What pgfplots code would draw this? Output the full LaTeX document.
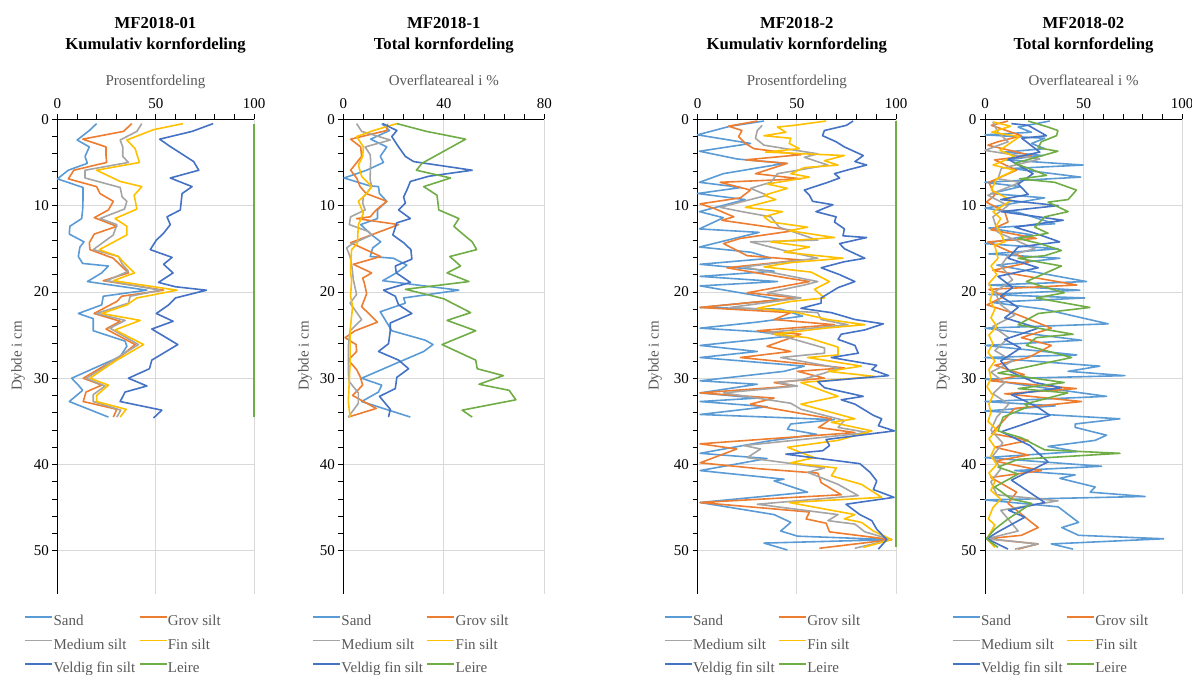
\documentclass[border=0pt]{standalone}
\usepackage{fontspec}
\setmainfont{Liberation Serif}
\usepackage{pgfplots}
\pgfplotsset{compat=1.18}
\definecolor{csand}{HTML}{5B9BD5}
\definecolor{cgrov}{HTML}{ED7D31}
\definecolor{cmed}{HTML}{A5A5A5}
\definecolor{cfin}{HTML}{FFC000}
\definecolor{cvfs}{HTML}{4472C4}
\definecolor{cleire}{HTML}{70AD47}
\definecolor{lgray}{HTML}{595959}
\definecolor{gridc}{HTML}{D9D9D9}
\pgfplotsset{
  panel/.style={
    scale only axis, height=474.7pt,
    y dir=reverse, ymin=0, ymax=55, xmin=0,
    axis x line*=top, axis y line*=left,
    axis line style={black, line width=0.75pt, -},
    ytick={0,10,...,50}, minor y tick num=4,
    tick align=outside, major tick length=5pt, minor tick length=5pt,
    tick style={black, line width=0.75pt},
    grid=major, major grid style={gridc, line width=0.75pt},
    /pgf/number format/assume math mode=true,
    tick label style={font=\fontsize{15}{15}\selectfont, text=black},
    xticklabel style={yshift=2.5pt},
    clip=false,
    every axis plot/.append style={line width=1.6pt, line join=round},
    legend columns=2,
    legend cell align=left,
    legend image code/.code={\draw[##1, line width=1.6pt] (0pt,5pt) -- (27pt,5pt);},
    legend style={font=\fontsize{15}{15}\selectfont, text=lgray, draw=none, fill=none,
      inner sep=0pt, outer sep=0pt, row sep=9pt,
      nodes={inner sep=0.5pt, text height=10.5pt, text depth=3pt},
      /tikz/every even column/.append style={column sep=3pt}},
  },
}
\tikzset{
  tnode/.style={font=\bfseries\fontsize{16.7}{16.7}\selectfont, anchor=base},
  lnode/.style={font=\fontsize{15}{15}\selectfont, text=lgray, anchor=base},
}
\begin{document}
\begin{tikzpicture}[x=1pt,y=1pt]
\useasboundingbox (0,0) rectangle (1192,675);
% ---------------- Panel 1 ----------------
\node[tnode] at (155.5,646) {MF2018-01};
\node[tnode] at (155.5,625) {Kumulativ kornfordeling};
\node[lnode] at (155.5,589) {Prosentfordeling};
\node[lnode, rotate=90, anchor=center] at (18,319) {Dybde i cm};
\begin{axis}[panel, at={(57.5pt,555.7pt)}, anchor=north west, width=196.5pt,
  xmax=100, xtick={0,50,100}, minor x tick num=4,
  legend style={at={(-0.168,-0.044)}, anchor=north west}]
\addplot[csand] coordinates {(19.9,0.5)(16.2,1.3)(10,2.4)(16.2,3.2)(14,4.3)(15.2,5.1)(5.5,5.9)(0,6.9)(13,7.9)(13,9.2)(12.8,10.5)(12.3,11.5)(6.3,12.4)(6,13.3)(13.5,14.2)(11.4,14.8)(10.6,15.9)(12.8,16.7)(25.9,17)(22.5,17.8)(15.2,18.8)(45.5,19.8)(23.3,20.5)(22.5,21.5)(10.6,22.5)(18.2,23.1)(18.2,24.5)(34.4,25.7)(35.3,26.3)(31.9,27.5)(20,28.7)(7.2,30)(10.6,30.8)(12.8,31.4)(6,32.7)(25.9,34.5)};
\addplot[cgrov] coordinates {(37.8,0.5)(33.6,1.4)(12.8,2.3)(24.7,3.2)(24.7,4.2)(25,5)(8.3,5.9)(5.5,6.9)(19.9,7.8)(21.6,8.6)(28.4,9.5)(25.9,10.5)(18.7,11.4)(30.2,12.4)(18.7,13.3)(16.2,14.3)(16.5,15.1)(28.4,16.1)(32,16.9)(36.1,17.8)(23.3,18.7)(54,19.8)(32.7,20.5)(30.2,21.1)(18.6,22.5)(31.9,23.4)(24.7,24.3)(39.5,26.1)(31.9,27.5)(22,28.8)(13.1,30)(22.5,30.8)(14.5,31.6)(13.1,32.7)(30.2,33.6)(28.4,34.5)};
\addplot[cmed] coordinates {(42.9,0.5)(40.4,1.4)(31.9,2.4)(33.2,3.2)(33.2,4.3)(36.1,5)(14,5.9)(14,6.8)(31.9,7.9)(32.9,9)(35.3,9.5)(34.1,10.4)(21.6,11.5)(30.2,12.2)(28.4,13.4)(18.2,15.1)(31,15.9)(33,16.8)(36.1,17.6)(25,18.7)(52.3,19.8)(37,20.5)(36.1,21.3)(19.9,22.5)(34.4,23.3)(26.7,24.2)(41.2,26.1)(28.4,27.9)(22,29)(14.5,30)(24.2,30.9)(18.2,31.9)(18.2,32.7)(32.2,33.7)(30.2,34.5)};
\addplot[cfin] coordinates {(63.9,0.5)(48.9,1.2)(35.3,2.4)(39.5,3.4)(41.7,5)(19.9,5.9)(31.9,7.2)(42.9,7.8)(39,8.8)(40.4,10.4)(29.3,11.5)(35.3,12.4)(35.3,13.4)(21.3,15.1)(31,15.9)(35,16.9)(39.2,17.8)(28.4,18.7)(60.8,19.8)(40.4,20.7)(35.3,21.5)(22.5,22.5)(42.1,23.3)(29.3,24.4)(43.8,26.1)(30.2,27.9)(23,29)(16.5,30)(25.9,30.8)(19.9,32)(19.9,32.7)(34.9,33.6)(31.9,34.5)};
\addplot[cvfs] coordinates {(79.2,0.5)(68.5,1.4)(52,2.3)(57,3.1)(62.5,3.9)(69.3,4.9)(71.9,5.9)(57.4,6.8)(68.5,7.8)(63.4,8.6)(62.5,10.5)(55.7,11.3)(57.4,12.2)(54,13.2)(50.3,14)(47.2,15.1)(58.3,16)(54,16.8)(58.8,17.8)(51.4,18.9)(60,19.4)(75.8,19.8)(60,20.7)(56.6,21.5)(50.3,22.5)(58.8,23.4)(48,24.3)(61.2,26.1)(48,27.9)(46.8,28.9)(36.1,30)(45.5,30.9)(34.4,31.6)(31.9,32.7)(53.1,33.7)(48.9,34.6)};
\addplot[cleire] coordinates {(100,0.5)(100,10)(100,20)(100,30)(100,34.5)};
\legend{Sand,Grov silt,Medium silt,Fin silt,Veldig fin silt,Leire}
\end{axis}
% ---------------- Panel 2 ----------------
\node[tnode] at (443.8,646) {MF2018-1};
\node[tnode] at (443.8,625) {Total kornfordeling};
\node[lnode] at (443.8,589) {Overflateareal i \%};
\node[lnode, rotate=90, anchor=center] at (305,319) {Dybde i cm};
\begin{axis}[panel, at={(343.3pt,555.7pt)}, anchor=north west, width=201pt,
  xmax=80, xtick={0,40,80}, minor x tick num=4,
  legend style={at={(-0.154,-0.044)}, anchor=north west}]
\addplot[csand] coordinates {(15.3,0.5)(18.4,1.3)(10.9,2.3)(17.3,3.2)(14.7,4.3)(16,5)(9.3,5.9)(0.3,6.8)(10.4,7.7)(14,7.8)(14.4,8.6)(17.3,9.5)(13.6,10.5)(13.6,11.5)(6.9,12.2)(11.3,13.4)(14.9,14.2)(11.7,14.9)(10.7,15.9)(20,16.1)(25.3,16.9)(21.1,17.8)(15.7,18.7)(46,19.8)(24,20.7)(24.7,21.3)(14.7,22.3)(19.3,24.5)(32.7,25.6)(35.7,26.1)(32,26.9)(20,28.4)(7.3,30)(15.3,30.8)(14,31.6)(7.3,32.7)(26.7,34.5)};
\addplot[cgrov] coordinates {(17.6,0.5)(17.3,1.3)(2.9,2.3)(6.9,3.2)(7.3,4.3)(2.9,5.9)(5.3,6.8)(6.7,7.8)(9.1,8.6)(17.3,9.5)(13.1,10.5)(10.7,11.3)(5.3,11.5)(22,12.2)(12,13.3)(2.9,14.3)(14.9,15.9)(4,16.8)(11.3,17.8)(7.7,18.4)(8.3,18.9)(9.3,20.2)(7.3,21.7)(13.6,23.5)(4.7,24.5)(0.7,25.3)(5.1,26.1)(5.3,26.9)(2,27.9)(5.3,29)(6.7,29.8)(7.7,30.8)(3.7,32)(13.1,33.5)(2,34.5)};
\addplot[cmed] coordinates {(5.3,0.5)(7.3,1.4)(18.7,2.4)(8.7,3.2)(10.7,4.1)(10.9,4.9)(10.7,6.6)(10.7,7)(11.3,7.8)(8,9)(7.7,9.7)(8.7,10.5)(2.9,11.3)(2.4,12.2)(10,13)(11.3,13.4)(3.7,14.4)(1.3,14.9)(2.7,15.9)(3.5,17.2)(4,18.6)(5.3,20.3)(2.7,21.3)(7.3,23.2)(2.7,24.5)(2,26.3)(2,29.5)(2.4,30.4)(6,31.7)(6,32.9)(2,34.5)};
\addplot[cfin] coordinates {(21.3,0.5)(12,1.3)(5.3,2)(8,3.2)(7.7,4.3)(6,5.3)(7.3,6.6)(11.3,7.8)(9.3,8.6)(6,9.5)(8,10.9)(6,12.2)(5.6,14.4)(3.3,15.1)(3,16.5)(2.9,17.8)(3.3,18.6)(2.9,20.5)(3.7,21.7)(2.7,24.5)(2.7,28.4)(2.4,30.2)(2,32.7)(2.7,34.5)};
\addplot[cvfs] coordinates {(15.7,0.5)(21.3,1.3)(19.3,2)(22,3.2)(24.7,4.3)(28,4.9)(51.3,5.9)(34,6.6)(26.7,7.2)(25.3,8.2)(24,9)(24.7,9.7)(22,10.5)(26.7,11.5)(21.3,12)(19.7,13.4)(24,14.3)(26.9,15.1)(27.3,16.2)(20.7,17)(21.1,17.8)(26.7,18.9)(16,19.8)(20.7,20.5)(22,21.5)(27.3,22.5)(18.7,23.6)(18.7,24.5)(18,26)(14,26.9)(22,27.9)(26,28.9)(21.3,29.9)(20.7,31.2)(14.4,32.1)(18.7,33.6)(18,34.5)};
\addplot[cleire] coordinates {(21.3,0.5)(33.1,1.4)(48.7,2.3)(40,3.7)(31.3,5.1)(29.1,5.9)(42.7,6.8)(32,7.8)(37.3,8.8)(38,10.5)(46,11.5)(44,12.4)(48,13.4)(51.3,14.2)(53.1,15.1)(42.4,15.9)(46.7,17)(41.3,17.8)(50,18.8)(24.7,19.7)(34.7,20.4)(40,20.8)(50.7,22.4)(41.3,23.3)(52.7,24.5)(39.3,26.1)(52.7,27.9)(53.3,28.9)(63.7,29.7)(54,30.7)(66,31.4)(68.7,32.5)(47.3,33.7)(51.3,34.5)};
\legend{Sand,Grov silt,Medium silt,Fin silt,Veldig fin silt,Leire}
\end{axis}
% ---------------- Panel 3 ----------------
\node[tnode] at (796.8,646) {MF2018-2};
\node[tnode] at (796.8,625) {Kumulativ kornfordeling};
\node[lnode] at (796.8,589) {Prosentfordeling};
\node[lnode, rotate=90, anchor=center] at (655,319) {Dybde i cm};
\begin{axis}[panel, at={(697.5pt,555.7pt)}, anchor=north west, width=198.5pt,
  xmax=100, xtick={0,50,100}, minor x tick num=4,
  legend style={at={(-0.169,-0.044)}, anchor=north west}]
\addplot[csand] coordinates {(33.5,0.2)(16.5,0.8)(0,1.8)(26.7,2.8)(1,3.7)(20,4.6)(44,5.1)(13,6.3)(1,7.3)(22,7.9)(0,8.6)(24,9.3)(1,10.7)(13,11.4)(1,12.7)(31,13.1)(1,14.8)(27,15.4)(36.9,16.1)(1.3,16.8)(38.6,17.6)(1.3,18.2)(40.3,18.8)(1.3,19.3)(21.6,20.1)(41.9,20.9)(1.3,21.8)(41.9,22)(53,22.8)(30,23.5)(1.3,24.2)(30.1,24.6)(47,25.1)(1.3,26.2)(30.1,26.9)(1.3,27.6)(53.8,28.6)(43.6,29.2)(1.3,30.3)(30.1,30.7)(1.3,31.7)(30.1,32.3)(1.3,32.7)(35.1,33.3)(1.3,34.2)(69,34.8)(47,35.3)(45.3,35.9)(60,36.5)(35,37.3)(1.3,38.7)(35,39.3)(1.3,40.7)(43.6,41.7)(38.6,41.9)(55.5,43.2)(1.3,44.4)(38.6,45.8)(47,46.7)(41.9,47.7)(50.4,48.3)(97.8,48.7)(33.5,49.1)(45.3,49.9)};
\addplot[cgrov] coordinates {(30.1,0.2)(15.7,0.8)(22.4,1.3)(20.7,2)(24.1,2.8)(28.4,3.4)(52.1,4.1)(24.1,4.7)(45.3,5.1)(29.2,6.3)(52.1,6.9)(11.4,7.3)(26.7,8.2)(21.6,9.1)(1.3,9.8)(8.1,10.3)(18.3,11.3)(12.2,11.7)(48.7,12.9)(21.6,13.8)(13.1,14.4)(25,15.8)(52.1,16.3)(14.8,17.2)(45.3,18.4)(56.4,18.8)(25,20.1)(50.4,20.7)(1.3,21.8)(47,22.4)(38.6,23.2)(69,23.8)(30.1,24.5)(52.1,24.9)(35,26.3)(47,26.9)(21.6,27.6)(74,28.8)(50.4,29.2)(64,30)(38.6,30.5)(48.7,30.9)(1.3,31.7)(38.6,32.3)(26.7,33)(35.1,33.4)(67.4,34.7)(61,35.7)(79.3,36.3)(1.3,37.6)(19.8,38.2)(1.3,39.8)(31.8,40.5)(60.6,41)(62.3,42.1)(72.4,43.5)(1.3,44.4)(56.4,45.5)(54.7,46.3)(64.8,46.8)(66.5,47.8)(97.8,48.7)(61.4,49.7)};
\addplot[cmed] coordinates {(32.6,0.7)(30.1,1.3)(29.2,2.2)(33.5,3)(60.6,4)(53.8,4.4)(65.7,5.3)(40.3,6.3)(36.9,7.3)(26.7,8)(35.1,8.8)(11.4,10.2)(22.4,10.7)(36.9,11.3)(41.2,12.5)(60.6,14)(26.7,14.2)(47,15.4)(60.6,16.1)(23.2,17.1)(60.6,18.8)(53.8,19.2)(35.1,20.1)(52.1,20.7)(16.5,21.8)(60.6,22.4)(62.3,23.2)(75.8,23.8)(35.1,24.7)(48.7,25.5)(64,26.5)(64,27.1)(41.9,27.6)(70.8,28.8)(64,29.4)(52.1,30.2)(40.3,30.5)(50.4,30.9)(13.1,31.7)(47,32.9)(52.1,33.6)(74,34.9)(70.8,35.7)(86,36.3)(23.3,37.8)(31.8,38.2)(25,39.2)(64,40.4)(55.5,40.9)(70.8,42.3)(81,43.6)(30.1,44.6)(70.8,45.8)(65.7,46.5)(79.3,46.9)(84.3,47.8)(97.8,48.7)(79.3,49.7)};
\addplot[cfin] coordinates {(64.8,0.2)(48.7,0.7)(40.3,0.9)(44.5,1.5)(33.5,1.9)(47,2.2)(46.2,2.8)(51.3,3.4)(34.3,3.8)(74,4.2)(63.9,4.8)(70.8,5.3)(53.8,5.6)(47,6.3)(56.4,6.7)(35.1,7.5)(45.3,8)(33.5,8.8)(39.4,9.3)(24.1,10.2)(42.8,10.7)(33.5,11.3)(36.9,11.9)(55.5,12.5)(46.2,12.9)(69,13.7)(36.9,14.2)(56.4,14.8)(43.6,15.4)(73.3,16.1)(47,16.6)(33.5,17.1)(57.2,17.7)(66.5,18.8)(58.9,19.7)(64,20.7)(47,21.1)(30.1,21.9)(50.4,22.4)(65.7,23.2)(84.3,23.8)(64,24.2)(38.6,24.9)(55.5,25.3)(70.8,26.4)(70.8,27.3)(55.5,27.6)(82.6,28.6)(65.7,29.2)(89.4,29.8)(52.1,30.5)(70.8,32.1)(52.1,33)(79.3,34.7)(67.4,35.1)(87.8,36.1)(70.8,37.2)(45.3,38)(58.9,39.2)(47,39.8)(70,40.4)(67.4,41.3)(82.6,42.3)(92.8,43.8)(46.2,44.4)(79.3,45.8)(74,46.3)(82.6,46.7)(88.6,47.7)(97.8,48.7)(83.5,49.6)};
\addplot[cvfs] coordinates {(78.4,0.2)(75,0.7)(63.9,1.3)(63,1.9)(69.8,2.6)(74,3.2)(83.5,4.2)(79.3,4.9)(85.2,5.3)(76.7,5.8)(69,6.3)(71.6,6.8)(65.7,7.3)(53.8,8.2)(56.4,8.8)(58,9.5)(68.2,9.9)(59.7,10.7)(69.8,11.3)(69,11.9)(74,12.7)(73.3,13.5)(85.2,13.7)(71.6,14.4)(74,15)(84.3,16.1)(74,16.5)(62.3,17.2)(71.6,18)(79.3,18.8)(70.8,19.5)(62.3,20.7)(62.3,21.3)(52.1,21.9)(67.4,22.4)(79.3,23.2)(93.6,23.7)(84.3,24.4)(72.4,24.9)(70.8,25.5)(79.3,26.2)(81,27.1)(67.4,27.6)(90.3,28.5)(87.8,29)(96.3,29.7)(60.6,30.4)(64,31.1)(83.5,32.1)(72.4,32.5)(79.3,33)(88.6,34.3)(92.8,34.7)(91.1,35.5)(99.2,36.1)(64.8,37.1)(66.5,37.8)(63.1,38.4)(44.5,38.8)(81.8,39.9)(86.9,40.9)(90.3,41.9)(88.6,42.9)(99,43.8)(74.8,44.6)(81.8,45.8)(87.8,46.5)(90.3,47.5)(95.4,48.7)(91.1,49.8)};
\addplot[cleire] coordinates {(100,0.2)(100,10)(100,20)(100,30)(100,40)(100,49.6)};
\legend{Sand,Grov silt,Medium silt,Fin silt,Veldig fin silt,Leire}
\end{axis}
% ---------------- Panel 4 ----------------
\node[tnode] at (1083.5,646) {MF2018-02};
\node[tnode] at (1083.5,625) {Total kornfordeling};
\node[lnode] at (1083.5,589) {Overflateareal i \%};
\node[lnode, rotate=90, anchor=center] at (943,319) {Dybde i cm};
\begin{axis}[panel, at={(985pt,555.7pt)}, anchor=north west, width=197pt,
  xmax=100, xtick={0,50,100}, minor x tick num=4,
  legend style={at={(-0.168,-0.044)}, anchor=north west}]
\addplot[csand] coordinates {(32.9,0.2)(16.8,0.9)(23.6,1.5)(0,1.8)(30.3,2.2)(23.6,2.8)(30.3,3.4)(10,3.8)(29.5,4.2)(10,4.7)(49.8,5.3)(13.4,5.7)(48.6,6.7)(0,7.3)(18,7.8)(3,8.6)(30.3,9.1)(0,10.3)(17,10.8)(35.4,12.1)(2,12.6)(24,13.4)(0,14.4)(37.1,15)(2,15.6)(38,16.1)(6,16.9)(51.5,18.8)(2,19.2)(48.1,19.8)(2,20.3)(50.6,20.7)(3,21.2)(30,22)(62.5,23.7)(0,24.2)(49,25.6)(0,26.2)(46.6,27.3)(0,27.6)(58.3,28.6)(42.2,29.2)(71,29.7)(0,30.1)(20,30.8)(61.7,32.1)(0,32.7)(35.6,33.2)(0,33.8)(68.5,34.7)(45.8,35.3)(45.8,35.7)(61.7,36.6)(55.9,37.2)(32,37.9)(47,38.5)(0,39.2)(59.2,40.2)(15,40.7)(45.8,41.2)(38,41.6)(55.9,42.6)(53.4,43.2)(81.2,43.7)(0,44.1)(37.1,44.9)(47.5,46.7)(39,47.3)(47.5,48.2)(90.7,48.6)(33.7,49.2)(44.7,49.8)};
\addplot[cgrov] coordinates {(11.7,0.2)(3.2,0.7)(18.5,1.9)(6.6,2.6)(1.5,3)(23.6,4.2)(4.9,4.7)(15.9,5.9)(2,7.3)(4.9,8.8)(0.7,9.6)(10,10.7)(11.7,11.9)(3,12.8)(26.1,13.8)(1.5,14.2)(20.2,16.1)(22,16.6)(4,17.5)(46.6,19.2)(2,19.7)(10,20.5)(1,21.5)(15,22.5)(33.7,24.2)(18.5,25.3)(33.7,26.2)(22,27.6)(5,28.5)(20,29.6)(3,30.3)(46.4,31.2)(10,31.8)(49,32.7)(15,33.5)(3.4,36.4)(22,37.2)(5,38)(22,38.9)(5,39.6)(28.6,40.7)(3,41.5)(16,43.2)(11.7,44.5)(23.6,46.7)(27,47.3)(18.5,48.2)(1,48.6)(27,49.2)(16.8,49.8)};
\addplot[cmed] coordinates {(4,0.3)(6.6,1.5)(11.7,2.6)(0,3.6)(27.8,4.6)(8.3,5.7)(6.6,6.9)(18,7.3)(1.5,8.8)(11.7,10)(4,11.3)(6.6,13.1)(25.3,15)(11.7,15.8)(8,17)(14,18.6)(5,20)(8,21.5)(15,22.7)(4,24)(12,25.3)(5,26.8)(14,28)(3,29.3)(10,30.5)(4,31.8)(12,33)(6,34.5)(3,36)(9,37.5)(4,39)(8,40.5)(3,42)(6,43.5)(37.1,44.2)(8,45.3)(16.8,47.7)(1,48.6)(27,49.2)(15.2,49.8)};
\addplot[cfin] coordinates {(4.1,0.3)(13,0.8)(3.4,1.5)(17.6,2)(12.5,2.8)(7.5,3.6)(15,4.3)(4.1,5.3)(15.1,5.9)(5.8,6.9)(3.2,8.2)(13.4,9.4)(4.1,10.7)(8,11.5)(5.8,12.3)(10,14.2)(4.9,14.6)(6.6,16.1)(3,17)(6,18)(2,19)(4,20)(2.5,21)(5,22)(3,23)(6,24)(2,25)(4,26)(1.5,27)(5,28)(2,29)(3,30)(1,31)(4,32)(2,33)(3,34)(1.5,35)(6,36)(2,37)(5,38)(3,39)(6,40)(2,41)(5,42)(3,43)(8,44)(4,45)(1.7,46.3)(5,47)(1,48.6)(5,49.6)};
\addplot[cvfs] coordinates {(13.4,0.5)(21.9,0.7)(31.2,1.9)(18.7,2.2)(27.8,3.8)(11.7,4.6)(24.4,6.3)(16.8,7.5)(21.9,8.7)(8,9.3)(37.1,10)(8.3,10.7)(39.7,11.7)(15.1,12.5)(25.4,13.2)(37.9,14.2)(16.8,14.8)(11.7,16.1)(27,17.2)(6.6,18.2)(14,19.5)(8,20.5)(16.8,21.8)(10,23)(27,24.2)(10,25.5)(18,26.5)(8,28)(12.5,29.2)(25.4,30.5)(38.8,31.1)(13.4,31.9)(20,32.6)(27,33.4)(32.9,34.3)(8.3,36.2)(22.8,37.8)(32,39.7)(13.4,41.8)(30.3,44.4)(12,45.3)(20.2,46.1)(6.6,47.8)(1,48.6)(11.7,49.8)};
\addplot[cleire] coordinates {(21.9,0.2)(32,0.9)(37,1.3)(36.3,1.9)(28.6,2.6)(27,3.3)(37,3.7)(15.1,5.1)(27,6.1)(31.2,6.5)(17.6,6.9)(35.4,7.3)(46.4,8.2)(42.2,9.3)(32,9.6)(42.2,10.7)(30.3,11.3)(25.3,12.5)(32,13.2)(16.8,13.8)(27.8,14.4)(38.8,15.2)(30.3,15.8)(16.8,16.1)(38.8,17)(21,18.8)(40.2,20.1)(26,20.7)(53.2,21.8)(27,22.5)(16.8,23.8)(44.7,24.9)(26,25.3)(21,26.2)(44,27.6)(6.6,29.4)(40.2,30.5)(16.8,31.2)(42,31.7)(20.2,33)(21.9,33.3)(9.2,34.5)(6.6,36.1)(18.5,36.9)(30.3,38.3)(68.5,38.7)(16.8,39.4)(6.6,40.3)(16.8,41.1)(4.9,42.6)(13.4,44)(23.7,44.5)(11.7,46.3)(4.9,47.5)(0.7,48.6)(6.6,49.6)};
\legend{Sand,Grov silt,Medium silt,Fin silt,Veldig fin silt,Leire}
\end{axis}
\end{tikzpicture}
\end{document}
